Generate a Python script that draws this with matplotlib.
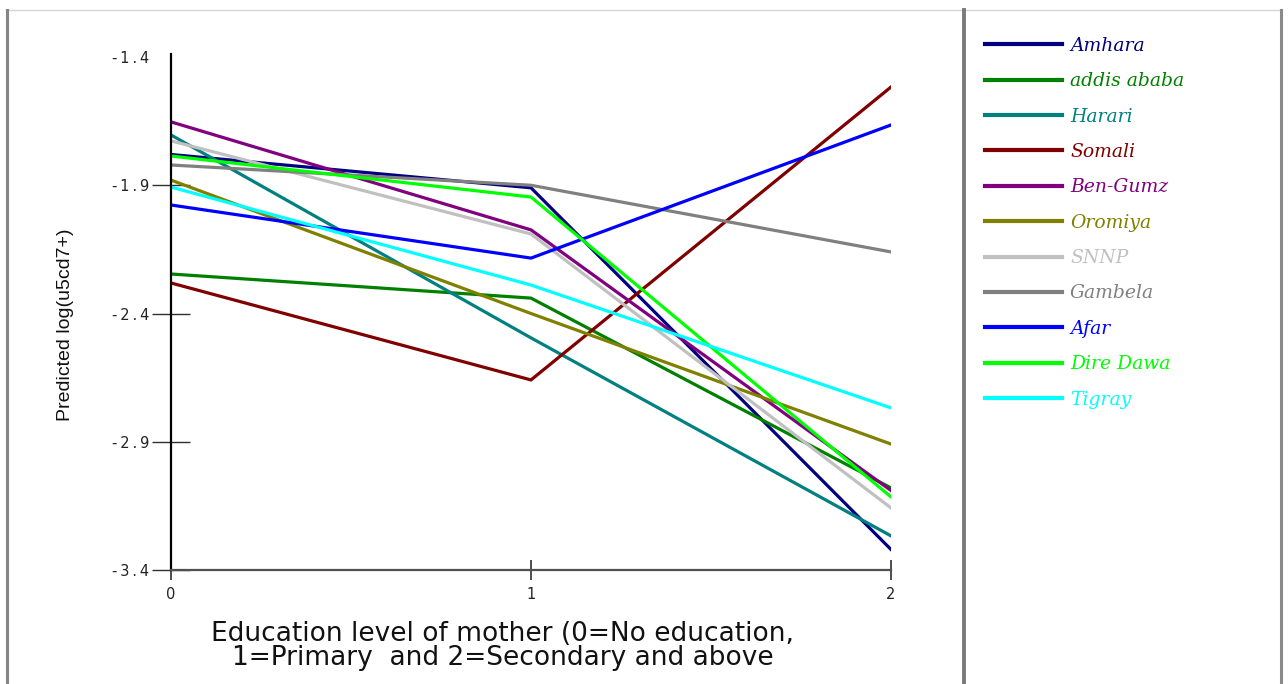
import matplotlib
matplotlib.use("Agg")
import matplotlib.pyplot as plt
from matplotlib.lines import Line2D
from matplotlib import font_manager

# ---- data ----
edu_levels = [0, 1, 2]
regions = ["Amhara", "addis ababa", "Harari", "Somali", "Ben-Gumz", "Oromiya",
           "SNNP", "Gambela", "Afar", "Dire Dawa", "Tigray"]
amhara = [-1.78, -1.91, -3.32]
addis_ababa = [-2.246, -2.34, -3.08]
harari = [-1.704, -2.495, -3.267]
somali = [-2.281, -2.659, -1.517]
ben_gumz = [-1.653, -2.074, -3.09]
oromiya = [-1.880, -2.40, -2.909]
snnp = [-1.727, -2.09, -3.158]
gambela = [-1.821, -1.90, -2.160]
afar = [-1.977, -2.184, -1.665]
dire_dawa = [-1.786, -1.946, -3.115]
tigray = [-1.907, -2.289, -2.768]
series = [amhara, addis_ababa, harari, somali, ben_gumz, oromiya,
          snnp, gambela, afar, dire_dawa, tigray]
colors = ["#000080", "#008000", "#008080", "#800000", "#800080", "#808000",
          "#C0C0C0", "#808080", "#0000FF", "#00FF00", "#00FFFF"]
y_ticks = [-3.4, -2.9, -2.4, -1.9, -1.4]
x_ticks = [0, 1, 2]

W, H = 1288, 684
fig = plt.figure(figsize=(W / 100, H / 100), dpi=100)
fig.patch.set_facecolor("white")

installed = {f.name for f in font_manager.fontManager.ttflist}
narrow = "Liberation Sans Narrow" if "Liberation Sans Narrow" in installed else "Liberation Sans"

def px_rect(l, t, r, b):
    return [l / W, 1 - b / H, (r - l) / W, (b - t) / H]

ax = fig.add_axes(px_rect(171, 57, 891, 570))
ax.set_facecolor("none")
for vals, col, name in zip(series, colors, regions):
    ax.plot(edu_levels, vals, color=col, lw=2.3, label=name, solid_joinstyle="miter")

ax.set_xlim(0, 2)
ax.set_ylim(-3.4, -1.4)
for s in ["top", "right"]:
    ax.spines[s].set_visible(False)
ax.spines["left"].set_color("black")
ax.spines["left"].set_linewidth(1.6)
ax.spines["left"].set_bounds(-3.4, -1.39)
ax.spines["bottom"].set_color("#505050")
ax.spines["bottom"].set_linewidth(1.6)
ax.set_yticks(y_ticks)
ax.set_yticklabels(["\u2009".join(f"{v:.1f}") for v in y_ticks],
                   fontsize=10.5, family="DejaVu Sans", color="#222222")
ax.set_xticks(x_ticks)
ax.set_xticklabels([str(v) for v in x_ticks], fontsize=10.5, family="DejaVu Sans",
                   color="#222222")
ax.tick_params(axis="y", direction="inout", length=27, width=1, color="#303030", pad=2)
ax.tick_params(axis="x", direction="inout", length=14, width=1.2, color="#303030", pad=5)
yt = ax.yaxis.get_major_ticks()
yt[-1].tick1line.set_visible(False)

fig.text(503 / W, 1 - 646 / H,
         "Education level of mother (0=No education,\n1=Primary  and 2=Secondary and above",
         ha="center", va="center", fontsize=19, family="DejaVu Sans",
         linespacing=0.93, color="#111111")
fig.text(65 / W, 1 - 325 / H, "Predicted log(u5cd7+)", rotation=90,
         ha="center", va="center", fontsize=16 if narrow != "Liberation Sans" else 14,
         family=narrow, color="#111111")

# legend
fs = 13.5
fpx = fs * 100 / 72
leg = fig.legend(loc="upper left", bbox_to_anchor=(985 / W, 1 - 37 / H),
                 frameon=False, fontsize=fs, handlelength=77 / fpx,
                 handletextpad=8 / fpx, labelspacing=(36.1 - fpx * 1.0) / fpx,
                 borderpad=0, borderaxespad=0, labelcolor="linecolor",
                 prop={"family": "DejaVu Serif", "style": "italic", "size": fs})
for h in leg.get_lines():
    h.set_linewidth(3)

# frame lines
def fline(x0, y0, x1, y1, **kw):
    fig.add_artist(Line2D([x0 / W, x1 / W], [1 - y0 / H, 1 - y1 / H], **kw))

fline(6, 10, 1282, 10, color="#d6d6d6", lw=1.0)
fline(7, 10, 7, 684, color="#858585", lw=2.2)
fline(964, 10, 964, 684, color="#7a7a7a", lw=2.8)
fline(1281, 10, 1281, 684, color="#8a8a8a", lw=2.2)

fig.savefig("out.png", dpi=100, facecolor="white")
